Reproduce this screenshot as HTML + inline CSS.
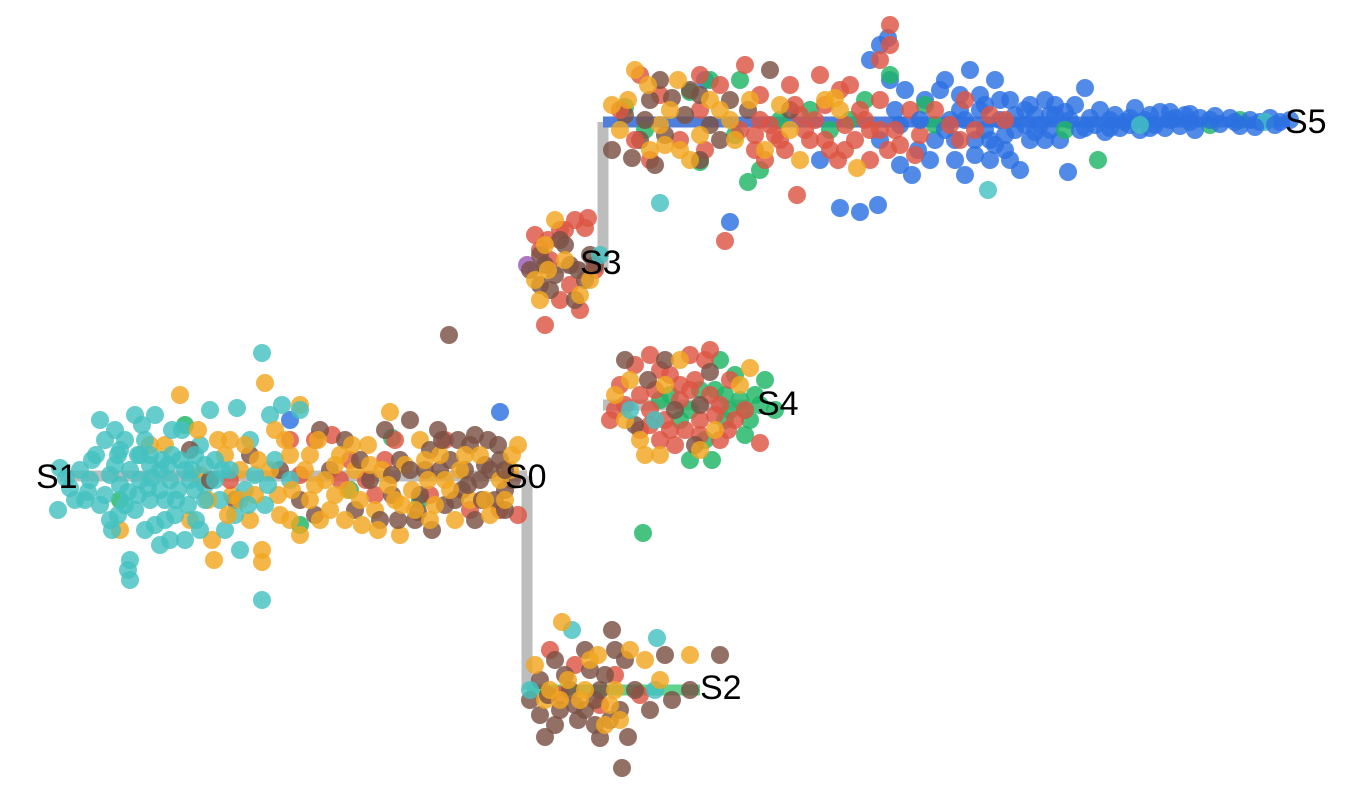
<!DOCTYPE html>
<html><head><meta charset="utf-8"><style>
html,body{margin:0;padding:0;background:#fff;}
svg{display:block;}
text{font-family:"Liberation Sans",Arial,sans-serif;font-size:34px;fill:#000;}
</style></head><body>
<svg id="chart" width="1360" height="800" xmlns="http://www.w3.org/2000/svg">
<g id="edges"></g>
<g id="pts"></g>
<g id="labels"></g>
</svg>
<script>
const xDomain=[0,1360], yDomain=[0,800];
const teal=[[58,510],[70,488],[80,470],[92,460],[100,420],[105,495],[112,530],[120,450],[128,570],[130,560],[135,415],[140,480],[145,440],[150,500],[155,415],[160,470],[165,520],[170,540],[172,455],[178,490],[182,430],[188,505],[192,470],[196,520],[200,445],[205,485],[210,410],[215,460],[220,500],[225,530],[230,470],[237,408],[240,550],[245,490],[250,440],[255,475],[262,600],[262,353],[265,505],[270,415],[275,460],[282,405],[290,480],[300,410],[130,470],[140,455],[150,465],[160,490],[170,480],[180,460],[120,485],[110,475],[100,505],[90,480],[135,510],[155,525],[175,515],[195,490],[215,480],[235,515],[200,530],[185,540],[165,500],[125,505],[148,488],[162,460],[118,455],[96,455],[85,500],[130,580],[105,440],[142,425],
[66,478],[75,500],[88,492],[115,465],[125,440],[138,495],[152,478],[168,465],[176,500],[190,480],[205,465],[222,470],[248,505],[268,485],[145,530],[118,515],[160,545],[138,455],[110,520],[150,455],[185,470],[205,500],[128,492],[172,430],[195,455],[60,468],[115,430],
[600,255],[630,410],[655,420],[530,690],[572,630],[657,638],[655,690],[660,203],[988,190],[1140,125],[1265,122]];
const orange=[[120,530],[150,445],[165,445],[180,395],[190,520],[200,475],[212,540],[214,560],[218,440],[225,455],[232,495],[240,470],[250,520],[262,550],[262,562],[265,383],[270,470],[278,495],[285,440],[290,520],[300,405],[305,470],[310,500],[318,440],[325,480],[330,510],[340,455],[348,490],[355,470],[360,500],[368,445],[375,510],[382,470],[390,412],[395,500],[400,535],[405,465],[412,490],[420,440],[428,480],[435,505],[440,455],[450,490],[460,470],[470,500],[480,455],[490,515],[500,480],[510,470],[518,445],[345,520],[310,455],[280,515],[255,495],[230,440],[245,445],[320,520],[362,525],[415,510],[455,520],
[208,500],[228,515],[258,460],[275,430],[292,490],[315,485],[335,495],[352,445],[370,465],[388,485],[402,505],[425,460],[445,480],[465,455],[485,500],[505,500],[512,455],[335,465],[290,455],[300,535],[198,430],[240,500],[378,530],[430,520],
[540,300],[545,245],[555,220],[580,295],[535,280],[565,260],[548,270],[590,280],
[615,395],[630,380],[645,455],[660,455],[680,360],[750,368],[740,385],[625,420],[700,450],[665,385],[715,430],[640,440],
[535,665],[545,700],[562,622],[568,680],[580,700],[590,660],[605,725],[615,690],[620,720],[630,650],[645,660],[660,680],[690,655],[550,690],[598,655],[585,690],[560,700],[610,705],
[612,105],[620,130],[635,70],[648,85],[660,125],[670,110],[678,80],[690,160],[700,135],[720,110],[735,140],[750,100],[765,150],[780,105],[800,160],[825,100],[835,98],[857,168],[730,120],[680,150],[650,150],[628,100],[665,145],[710,100],[790,130],[840,110]];
const brown=[[235,500],[250,455],[280,470],[300,500],[315,515],[320,430],[330,470],[345,440],[355,510],[370,480],[385,430],[392,495],[400,460],[410,420],[415,520],[425,470],[432,530],[438,430],[445,505],[450,460],[458,440],[462,490],[470,445],[475,520],[480,480],[488,440],[495,500],[500,460],[505,490],[512,480],[449,335],[440,470],[420,495],[465,470],[485,465],[398,520],[380,520],[210,480],[190,450],
[430,450],[455,500],[475,435],[490,470],[498,445],[468,485],[442,440],[410,470],[360,460],[392,475],[418,512],[482,500],[505,470],[505,510],
[530,270],[540,255],[550,290],[560,240],[570,265],[575,300],[585,280],[590,255],[545,265],[555,275],[565,245],[540,285],[578,270],[595,265],
[625,360],[648,380],[665,360],[695,445],[710,372],[675,410],[700,405],[635,425],
[530,700],[540,680],[545,737],[555,660],[560,710],[570,690],[578,720],[585,650],[595,700],[600,738],[605,675],[612,630],[620,710],[625,660],[622,768],[628,737],[635,690],[650,710],[665,655],[672,700],[690,690],[720,655],[555,725],[590,670],[610,720],[575,705],[540,715],[600,690],[585,710],[615,650],[565,675],[595,725],[548,695],
[612,150],[625,115],[640,140],[650,100],[655,165],[665,135],[672,98],[690,90],[700,160],[710,125],[730,100],[748,110],[770,70],[790,110],[660,80],[685,115],[720,140],[632,158],[645,120],[700,95]];
const red=[[290,440],[300,475],[315,440],[332,435],[350,460],[366,480],[375,495],[385,460],[395,440],[430,495],[445,440],[470,510],[500,510],[518,515],[340,480],[230,480],
[548,240],[565,230],[585,228],[560,300],[540,250],
[535,235],[545,325],[560,230],[575,220],[588,218],[595,270],[570,285],[580,310],[550,260],
[610,420],[620,385],[635,365],[640,430],[650,410],[660,440],[670,375],[680,400],[690,355],[700,420],[710,395],[720,440],[730,380],[745,410],[760,443],[655,390],[665,420],[685,430],[695,380],[715,415],[640,395],[625,405],[675,445],[705,360],[650,355],[728,430],
[660,370],[690,390],[720,405],[650,425],[680,385],[700,435],[735,420],[615,410],[670,430],[710,350],
[550,650],[575,665],[600,705],[615,675],[640,695],[560,695],
[640,75],[660,95],[680,140],[700,110],[720,85],[725,241],[740,130],[755,150],[760,95],[770,125],[780,140],[790,85],[797,195],[800,115],[810,140],[820,75],[825,105],[830,150],[840,90],[845,125],[855,140],[860,110],[870,160],[880,100],[890,25],[895,130],[900,145],[910,110],[920,135],[935,110],[950,125],[965,100],[975,130],[990,115],[1005,120],[650,160],[705,150],[745,65],[765,160],[785,150],[815,120],[850,85],[888,150],[915,155],[960,140],[620,110],[635,140],[700,75],[760,120],[838,160],[870,130],
[775,135],[805,130],[825,140],[845,150],[865,120],[880,130],[795,105],[755,135],[880,60],[890,45]];
const green=[[185,425],[300,525],[392,438],[420,500],[120,500],[350,490],
[690,460],[700,390],[712,460],[720,360],[730,410],[740,400],[750,420],[765,380],[775,410],[735,375],[715,390],[705,440],[680,420],[660,400],[670,395],[690,410],[745,435],[725,395],[760,405],[643,533],[745,410],[755,395],[725,420],
[625,107],[645,130],[690,92],[700,162],[710,80],[735,135],[740,80],[748,182],[760,170],[780,120],[810,110],[850,120],[865,100],[890,75],[925,105],[935,125],[1065,130],[1098,160],[1210,125],[1240,120],[830,130]];
const blue=[[500,412],[290,420],
[705,80],[730,222],[820,160],[840,208],[860,212],[878,205],[870,60],[880,45],[888,38],[890,80],[895,110],[900,125],[905,90],[912,175],[918,150],[925,100],[935,140],[945,80],[950,120],[955,160],[960,110],[965,175],[970,70],[975,140],[980,95],[985,130],[990,160],[995,80],[1000,120],[1005,150],[1010,100],[1015,130],[1020,170],[1025,110],[1030,140],[1035,115],[1040,125],[1045,100],[1050,130],[1055,115],[1060,140],[1068,172],[1070,120],[1075,105],[1080,130],[1085,88],[1090,118],[1095,125],[1100,110],[1105,132],[1110,120],[1115,115],[1120,128],[1125,122],[1130,118],[1135,108],[1140,130],[1145,120],[1150,115],[1155,125],[1160,112],[1165,128],[1170,120],[1175,118],[1180,126],[1185,115],[1190,122],[1195,130],[1200,118],[1210,120],[1220,124],[1230,118],[1240,126],[1250,120],[1260,122],[1270,118],[1280,122],[940,90],[960,95],[990,140],[1010,160],[1030,105],[1050,115],[1000,100],[980,110],[880,140],[900,165],[930,160],
[945,130],[965,120],[985,105],[1005,135],[1025,125],[1045,140],[1065,112],[1085,128],[1015,115],[995,145],[975,155],[955,140],[1035,132],[1055,105],[920,120],[1110,128],[1130,125],[1150,128],[1170,112],[1190,114],[1215,116],[1235,122],[1255,127],[1275,125],[1290,120]];
const purple=[[527,265]];
const stateNames=["S1","S0","S3","S4","S2","S5"];
const stateX=[36,505,580,757,700,1285];
const stateY=[476,476,262,403,687,121];
const edgeFrom=[[60,476],[527,476],[527,268],[603,268],[603,405],[527,690],[603,122]];
const edgeTo=[[527,476],[527,690],[603,268],[603,122],[750,405],[700,690],[1290,122]];
const edgeColor=["#bdbdbd","#bdbdbd","#bdbdbd","#bdbdbd","#bdbdbd","#5fd48f","#4f7fdc"];

const sx=v=>(v-xDomain[0])/(xDomain[1]-xDomain[0])*1360;
const sy=v=>(v-yDomain[0])/(yDomain[1]-yDomain[0])*800;
const NS="http://www.w3.org/2000/svg";
const eg=document.getElementById('edges'),pg=document.getElementById('pts'),lg=document.getElementById('labels');
edgeFrom.forEach((f,i)=>{
  const l=document.createElementNS(NS,'line');
  l.setAttribute('x1',sx(f[0]));l.setAttribute('y1',sy(f[1]));
  l.setAttribute('x2',sx(edgeTo[i][0]));l.setAttribute('y2',sy(edgeTo[i][1]));
  l.setAttribute('stroke',edgeColor[i]);l.setAttribute('stroke-width',11);
  
  
  eg.appendChild(l);
});
const series=[[teal,"#44c1c1"],[orange,"#f1a620"],[brown,"#7a5044"],[red,"#dd5443"],[green,"#1fb665"],[blue,"#2c70e2"],[purple,"#9b59b6"]];
const mixed=[];
const n=Math.max(...series.map(s=>s[0].length));
for(let i=0;i<n;i++)series.forEach(s=>{if(i<s[0].length)mixed.push([s[0][i],s[1]]);});
mixed.forEach(([p,c])=>{
  const ci=document.createElementNS(NS,'circle');
  ci.setAttribute('cx',sx(p[0]));ci.setAttribute('cy',sy(p[1]));
  ci.setAttribute('r',9);ci.setAttribute('fill',c);ci.setAttribute('fill-opacity',0.82);
  
  
  pg.appendChild(ci);
});
stateNames.forEach((s,i)=>{
  const t=document.createElementNS(NS,'text');
  t.setAttribute('x',sx(stateX[i]));t.setAttribute('y',sy(stateY[i])+12);
  t.textContent=s;
  
  
  lg.appendChild(t);
});
</script>
</body></html>
